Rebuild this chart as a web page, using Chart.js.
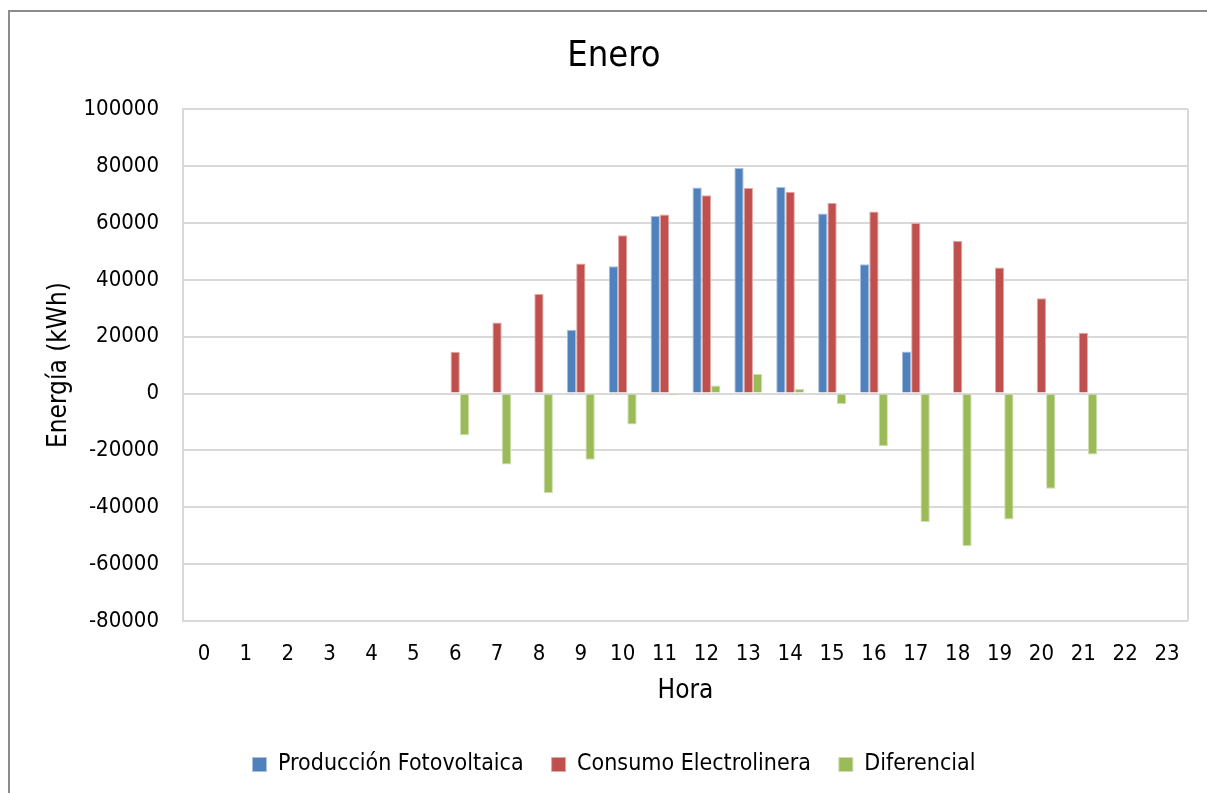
<!DOCTYPE html>
<html>
<head>
<meta charset="utf-8">
<script src="https://cdn.jsdelivr.net/npm/chart.js@4"></script>
<style>
  html, body { margin: 0; padding: 0; background: #fff; }
  #frame { position: absolute; left: 8px; top: 10px; width: 1199px; height: 800px;
           border-left: 2px solid #8c8c8c; border-top: 2px solid #8c8c8c; box-sizing: border-box; }
  #wrap { position: absolute; left: 0; top: 0; width: 1207px; height: 793px; }
</style>
</head>
<body>
<div id="frame"></div>
<div id="wrap"><canvas id="c" width="1207" height="793"></canvas></div>
<script>
const horas = ['0','1','2','3','4','5','6','7','8','9','10','11','12','13','14','15','16','17','18','19','20','21','22','23'];
const produccion = [0,0,0,0,0,0,0,0,0,22400,44800,62400,72500,79300,72600,63300,45500,14800,0,0,0,0,0,0];
const consumo    = [0,0,0,0,0,0,14700,25000,35000,45700,55700,63000,69700,72300,71000,67000,64000,60000,53700,44300,33500,21400,0,0];
const diferencial= [0,0,0,0,0,0,-14700,-25000,-35000,-23300,-10900,-600,2800,7000,1600,-3700,-18500,-45200,-53700,-44300,-33500,-21400,0,0];
const yTicks = [100000,80000,60000,40000,20000,0,-20000,-40000,-60000,-80000];

const FONT = "'DejaVu Sans Condensed', 'DejaVu Sans', sans-serif";
Chart.defaults.font.family = FONT;
Chart.defaults.color = '#000';

const borderPlugin = {
  id: 'plotBorder',
  afterDraw(chart) {
    const a = chart.chartArea, ctx = chart.ctx;
    ctx.save();
    ctx.strokeStyle = '#d9d9d9';
    ctx.lineWidth = 2;
    ctx.beginPath();
    ctx.moveTo(a.right, a.top); ctx.lineTo(a.right, a.bottom);
    ctx.stroke();
    ctx.restore();
  }
};

new Chart(document.getElementById('c'), {
  type: 'bar',
  data: {
    labels: horas,
    datasets: [
      { label: 'Producción Fotovoltaica', data: produccion, backgroundColor: '#4F81BD', borderColor: '#a9c0df', borderWidth: 1 },
      { label: 'Consumo Electrolinera', data: consumo, backgroundColor: '#C0504D', borderColor: '#e0a8a6', borderWidth: 1 },
      { label: 'Diferencial', data: diferencial, backgroundColor: '#9BBB59', borderColor: '#cddfac', borderWidth: 1 }
    ]
  },
  options: {
    responsive: false,
    animation: false,
    devicePixelRatio: 1,
    layout: { padding: { left: 40, right: 19, top: 35, bottom: 7 } },
    datasets: { bar: { categoryPercentage: 0.667, barPercentage: 1.0 } },
    plugins: {
      title: { display: true, text: 'Enero', font: { size: 36, weight: 'normal' }, color: '#000', padding: { top: 0, bottom: 31 } },
      legend: {
        position: 'bottom',
        labels: { boxWidth: 14, boxHeight: 14, font: { size: 23 }, padding: 28, color: '#000' }
      },
      tooltip: { enabled: false }
    },
    scales: {
      x: {
        grid: { display: false },
        border: { display: false },
        ticks: { font: { size: 22 }, color: '#000', maxRotation: 0, autoSkip: false, padding: 12 },
        title: { display: true, text: 'Hora', font: { size: 26 }, color: '#000', padding: { top: 0, bottom: 18 } },
        afterFit(scale) { scale.height = 104; }
      },
      y: {
        min: -80000, max: 100000,
        afterBuildTicks(axis) { axis.ticks = yTicks.map(v => ({ value: v })); },
        grid: { color: '#d9d9d9', lineWidth: 2, drawTicks: false },
        border: { display: true, color: '#d9d9d9', width: 2 },
        ticks: { font: { size: 22 }, color: '#000', padding: 24, callback: v => String(v) },
        title: { display: true, text: 'Energía (kWh)', font: { size: 26 }, color: '#000', padding: { top: 4, bottom: 0 } },
        afterFit(scale) { scale.width = 143; }
      }
    }
  },
  plugins: [borderPlugin]
});
</script>
</body>
</html>
